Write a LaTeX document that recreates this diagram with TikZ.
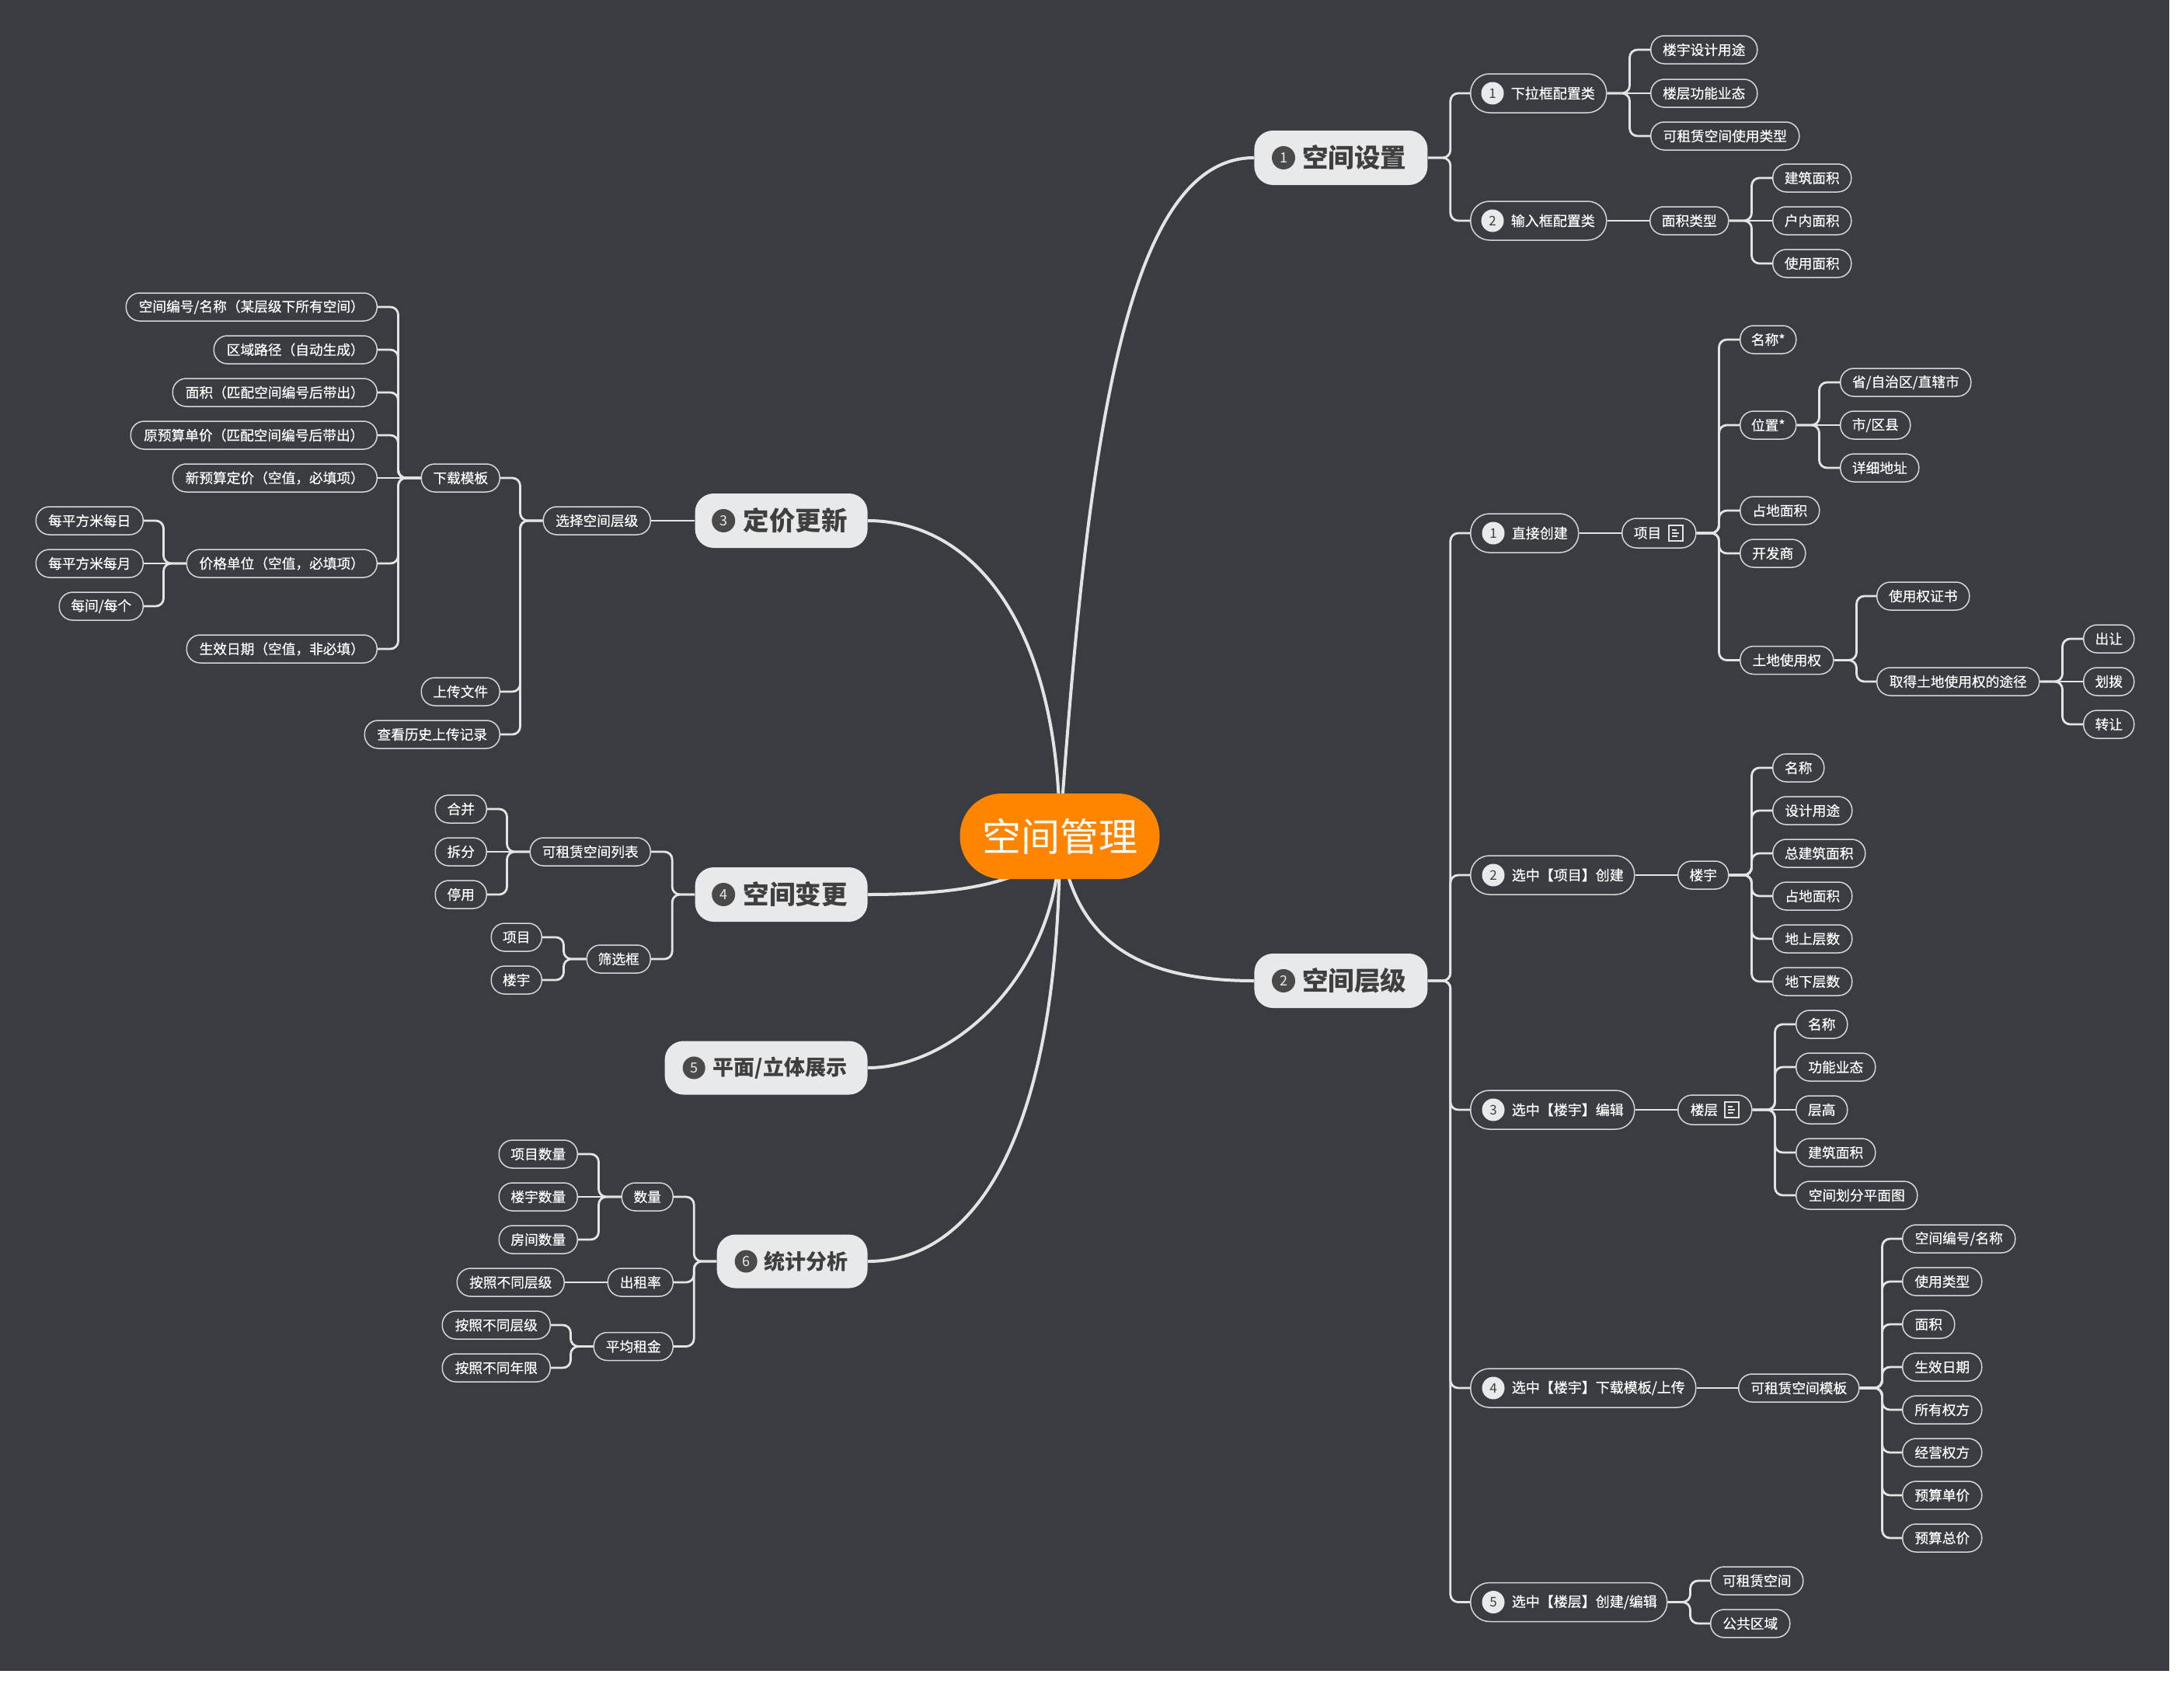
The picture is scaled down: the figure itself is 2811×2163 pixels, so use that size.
\documentclass[tikz,border=0pt]{standalone}
\usepackage{fontspec}
\setmainfont{Noto Sans CJK SC}
\newfontfamily\leaffont{Noto Sans CJK SC}[FakeBold=0.4]
\usetikzlibrary{calc}
\newdimen\pxu \pxu=0.5pt
\newcommand{\cbx}[2]{\hbox to #1\pxu{\hfil#2\hfil}}
\newcommand{\lbx}[3]{\hbox to #1\pxu{\hspace*{#2\pxu}#3\hfil}}
\newcommand{\rtree}[2]{\draw[conn] (#1.east) -- ++(29,0) |- (#2.west);}
\newcommand{\ltree}[2]{\draw[conn] (#1.west) -- ++(-29,0) |- (#2.east);}
\newcommand{\rdir}[2]{\draw[conn] (#1.east) -- (#2.west);}
\newcommand{\ldir}[2]{\draw[conn] (#1.west) -- (#2.east);}
\definecolor{bgc}{HTML}{393C41}
\definecolor{lnc}{HTML}{E4E4E4}
\definecolor{outc}{HTML}{D6D6D6}
\definecolor{mainfill}{HTML}{E8E9EB}
\definecolor{maintext}{HTML}{3F3F3F}
\definecolor{numdark}{HTML}{4A4A4A}
\definecolor{orangec}{HTML}{FF8500}
\pgfdeclarelayer{bgl}
\pgfdeclarelayer{edges}
\pgfsetlayers{bgl,edges,main}
\tikzset{
  leaf/.style={draw=outc, line width=0.75pt, fill=bgc, rounded corners=8.7pt, minimum height=18pt, inner sep=0pt, text=white, font=\leaffont\fontsize{8.85}{10}\selectfont},
  icnode/.style={leaf, minimum height=19pt, rounded corners=9.2pt},
  sub/.style={draw=outc, line width=0.75pt, fill=bgc, rounded corners=12.2pt, minimum height=25pt, inner sep=0pt, text=white, font=\leaffont\fontsize{9}{10}\selectfont},
  mainn/.style={fill=mainfill, rounded corners=12pt, minimum height=35pt, inner sep=0pt, text=maintext, font=\fontsize{16.75}{18}\selectfont\bfseries},
  mains/.style={mainn, minimum height=34.5pt, font=\fontsize{13.5}{15}\selectfont\bfseries},
  rootn/.style={fill=orangec, rounded corners=27pt, minimum height=55pt, inner sep=0pt, text=white, font=\fontsize{25}{28}\selectfont},
  numd/.style={circle, fill=numdark, text=mainfill, minimum size=15pt, inner sep=0pt, font=\fontsize{9}{10}\selectfont},
  numl/.style={circle, fill=mainfill, text=maintext, minimum size=14.5pt, inner sep=0pt, font=\fontsize{8.5}{9}\selectfont},
  conn/.style={draw=lnc, line width=1.4pt, rounded corners=5pt},
  mconn/.style={draw=lnc, line width=2pt},
  icon/.style={draw=lnc, line width=0.6pt}
}
\begin{document}
\begin{tikzpicture}[x=0.5pt,y=-0.5pt]
\useasboundingbox (0,0) rectangle (2811,2163);
\begin{pgfonlayer}{bgl}
\fill[white] (0,0) rectangle (2811,2163);
\fill[bgc] (0,0) rectangle (2792,2150);
\end{pgfonlayer}

% root
\node[rootn] (root) at (1364,1076) {\cbx{257}{空间管理}};

% ===== main 1
\node[mainn, anchor=west] (m1) at (1614,203) {\lbx{223}{62}{空间设置}};
\node[numd, xshift=19pt] (m1n) at (m1.west) {1};
\node[sub, anchor=west] (s11) at (1892,120) {\lbx{175}{52}{下拉框配置类}};
\node[numl, xshift=14.5pt] (s11n) at (s11.west) {1};
\node[leaf, anchor=west] (l111) at (2124,64) {\cbx{137}{楼宇设计用途}};
\node[leaf, anchor=west] (l112) at (2124,120) {\cbx{137}{楼层功能业态}};
\node[leaf, anchor=west] (l113) at (2124,175) {\cbx{191}{可租赁空间使用类型}};
\node[sub, anchor=west] (s12) at (1892,284) {\lbx{175}{52}{输入框配置类}};
\node[numl, xshift=14.5pt] (s12n) at (s12.west) {2};
\node[leaf, anchor=west] (l121) at (2123,284) {\cbx{101}{面积类型}};
\node[leaf, anchor=west] (l1211) at (2281,229) {\cbx{101}{建筑面积}};
\node[leaf, anchor=west] (l1212) at (2281,284) {\cbx{101}{户内面积}};
\node[leaf, anchor=west] (l1213) at (2281,339) {\cbx{101}{使用面积}};

% ===== main 2
\node[mainn, anchor=west] (m2) at (1614,1262) {\lbx{223}{62}{空间层级}};
\node[numd, xshift=19pt] (m2n) at (m2.west) {2};
% s21
\node[sub, anchor=west] (s21) at (1892,686) {\lbx{139}{53}{直接创建}};
\node[numl, xshift=15pt] (s21n) at (s21.west) {1};
\node[icnode, anchor=west] (p21) at (2087,686) {\lbx{95}{15}{项目}};
\node[leaf, anchor=west] (a1) at (2239,437) {\cbx{72}{名称*}};
\node[leaf, anchor=west] (a2) at (2239,547) {\cbx{72}{位置*}};
\node[leaf, anchor=west] (a21) at (2368,492) {\cbx{168}{省/自治区/直辖市}};
\node[leaf, anchor=west] (a22) at (2368,547) {\cbx{90}{市/区县}};
\node[leaf, anchor=west] (a23) at (2368,602) {\cbx{101}{详细地址}};
\node[leaf, anchor=west] (a3) at (2239,657) {\cbx{102}{占地面积}};
\node[leaf, anchor=west] (a4) at (2239,712) {\cbx{84}{开发商}};
\node[leaf, anchor=west] (a5) at (2239,849.5) {\cbx{120}{土地使用权}};
\node[leaf, anchor=west] (a51) at (2415,767) {\cbx{119}{使用权证书}};
\node[leaf, anchor=west] (a52) at (2415,877) {\cbx{209}{取得土地使用权的途径}};
\node[leaf, anchor=west] (a521) at (2681,822) {\cbx{65}{出让}};
\node[leaf, anchor=west] (a522) at (2681,877) {\cbx{65}{划拨}};
\node[leaf, anchor=west] (a523) at (2681,932) {\cbx{65}{转让}};
% s22
\node[sub, anchor=west] (s22) at (1892,1126) {\lbx{211}{53}{选中【项目】创建}};
\node[numl, xshift=15pt] (s22n) at (s22.west) {2};
\node[leaf, anchor=west] (b0) at (2159,1126) {\cbx{65}{楼宇}};
\node[leaf, anchor=west] (b1) at (2281,988) {\cbx{66}{名称}};
\node[leaf, anchor=west] (b2) at (2281,1043) {\cbx{102}{设计用途}};
\node[leaf, anchor=west] (b3) at (2281,1098) {\cbx{119}{总建筑面积}};
\node[leaf, anchor=west] (b4) at (2281,1153) {\cbx{102}{占地面积}};
\node[leaf, anchor=west] (b5) at (2281,1208) {\cbx{102}{地上层数}};
\node[leaf, anchor=west] (b6) at (2281,1263) {\cbx{102}{地下层数}};
% s23
\node[sub, anchor=west] (s23) at (1892,1428) {\lbx{211}{53}{选中【楼宇】编辑}};
\node[numl, xshift=15pt] (s23n) at (s23.west) {3};
\node[icnode, anchor=west] (c0) at (2159,1428) {\lbx{95}{16}{楼层}};
\node[leaf, anchor=west] (c1) at (2311,1318) {\cbx{66}{名称}};
\node[leaf, anchor=west] (c2) at (2311,1373) {\cbx{102}{功能业态}};
\node[leaf, anchor=west] (c3) at (2311,1428) {\cbx{66}{层高}};
\node[leaf, anchor=west] (c4) at (2311,1483) {\cbx{102}{建筑面积}};
\node[leaf, anchor=west] (c5) at (2311,1538) {\cbx{156}{空间划分平面图}};
% s24
\node[sub, anchor=west] (s24) at (1892,1786) {\lbx{290}{53}{选中【楼宇】下载模板/上传}};
\node[numl, xshift=15pt] (s24n) at (s24.west) {4};
\node[leaf, anchor=west] (d0) at (2237,1786) {\cbx{155}{可租赁空间模板}};
\node[leaf, anchor=west] (d1) at (2448,1594) {\cbx{145}{空间编号/名称}};
\node[leaf, anchor=west] (d2) at (2448,1649) {\cbx{102}{使用类型}};
\node[leaf, anchor=west] (d3) at (2448,1704) {\cbx{67}{面积}};
\node[leaf, anchor=west] (d4) at (2448,1759) {\cbx{102}{生效日期}};
\node[leaf, anchor=west] (d5) at (2448,1814) {\cbx{102}{所有权方}};
\node[leaf, anchor=west] (d6) at (2448,1869) {\cbx{102}{经营权方}};
\node[leaf, anchor=west] (d7) at (2448,1924) {\cbx{102}{预算单价}};
\node[leaf, anchor=west] (d8) at (2448,1979) {\cbx{102}{预算总价}};
% s25
\node[sub, anchor=west] (s25) at (1892,2061.5) {\lbx{253}{53}{选中【楼层】创建/编辑}};
\node[numl, xshift=15pt] (s25n) at (s25.west) {5};
\node[leaf, anchor=west] (e1) at (2201,2034) {\cbx{119}{可租赁空间}};
\node[leaf, anchor=west] (e2) at (2201,2089) {\cbx{102}{公共区域}};

% ===== main 3
\node[mainn, anchor=east] (m3) at (1117,670) {\lbx{222}{62}{定价更新}};
\node[numd, xshift=18.5pt] (m3n) at (m3.west) {3};
\node[leaf, anchor=east] (f0) at (838,670) {\cbx{138}{选择空间层级}};
\node[leaf, anchor=east] (f1) at (644,615) {\cbx{101}{下载模板}};
\node[leaf, anchor=east] (f11) at (486,395) {\cbx{323}{空间编号/名称（某层级下所有空间）}};
\node[leaf, anchor=east] (f12) at (486,450) {\cbx{210}{区域路径（自动生成）}};
\node[leaf, anchor=east] (f13) at (486,505) {\cbx{263}{面积（匹配空间编号后带出）}};
\node[leaf, anchor=east] (f14) at (486,560) {\cbx{317}{原预算单价（匹配空间编号后带出）}};
\node[leaf, anchor=east] (f15) at (486,615) {\cbx{263}{新预算定价（空值，必填项）}};
\node[leaf, anchor=east] (f16) at (486,725) {\cbx{245}{价格单位（空值，必填项）}};
\node[leaf, anchor=east] (f161) at (185,670) {\cbx{138}{每平方米每日}};
\node[leaf, anchor=east] (f162) at (185,725) {\cbx{138}{每平方米每月}};
\node[leaf, anchor=east] (f163) at (185,780) {\cbx{108}{每间/每个}};
\node[leaf, anchor=east] (f17) at (486,835) {\cbx{245}{生效日期（空值，非必填）}};
\node[leaf, anchor=east] (f2) at (644,890) {\cbx{101}{上传文件}};
\node[leaf, anchor=east] (f3) at (644,945) {\cbx{174}{查看历史上传记录}};

% ===== main 4
\node[mainn, anchor=east] (m4) at (1117,1151) {\lbx{222}{62}{空间变更}};
\node[numd, xshift=18.5pt] (m4n) at (m4.west) {4};
\node[leaf, anchor=east] (g1) at (838,1096) {\cbx{155}{可租赁空间列表}};
\node[leaf, anchor=east] (g11) at (627,1041) {\cbx{66}{合并}};
\node[leaf, anchor=east] (g12) at (627,1096) {\cbx{66}{拆分}};
\node[leaf, anchor=east] (g13) at (627,1151) {\cbx{66}{停用}};
\node[leaf, anchor=east] (g2) at (838,1234) {\cbx{82}{筛选框}};
\node[leaf, anchor=east] (g21) at (698,1206) {\cbx{65}{项目}};
\node[leaf, anchor=east] (g22) at (698,1261) {\cbx{65}{楼宇}};

% ===== main 5
\node[mains, anchor=east] (m5) at (1117,1374) {\lbx{261}{62}{平面/立体展示}};
\node[numd, minimum size=14.5pt, xshift=19pt] (m5n) at (m5.west) {5};

% ===== main 6
\node[mains, anchor=east] (m6) at (1117,1623) {\lbx{194}{61}{统计分析}};
\node[numd, minimum size=14.5pt, xshift=19pt] (m6n) at (m6.west) {6};
\node[leaf, anchor=east] (h1) at (867,1540) {\cbx{66}{数量}};
\node[leaf, anchor=east] (h11) at (744,1485) {\cbx{101}{项目数量}};
\node[leaf, anchor=east] (h12) at (744,1540) {\cbx{101}{楼宇数量}};
\node[leaf, anchor=east] (h13) at (744,1595) {\cbx{101}{房间数量}};
\node[leaf, anchor=east] (h2) at (867,1650) {\cbx{84}{出租率}};
\node[leaf, anchor=east] (h21) at (727,1650) {\cbx{138}{按照不同层级}};
\node[leaf, anchor=east] (h3) at (867,1732.5) {\cbx{102}{平均租金}};
\node[leaf, anchor=east] (h31) at (709,1705) {\cbx{139}{按照不同层级}};
\node[leaf, anchor=east] (h32) at (709,1760) {\cbx{139}{按照不同年限}};

% note icons
\draw[icon] ($(p21.west)+(61,-10)$) rectangle ++(18,20);
\draw[icon] ($(p21.west)+(65,-4)$) -- ++(6,0);
\draw[icon] ($(p21.west)+(65,0)$) -- ++(9,0);
\draw[icon] ($(p21.west)+(65,4)$) -- ++(7,0);
\draw[icon] ($(c0.west)+(61,-10)$) rectangle ++(18,20);
\draw[icon] ($(c0.west)+(65,-4)$) -- ++(6,0);
\draw[icon] ($(c0.west)+(65,0)$) -- ++(9,0);
\draw[icon] ($(c0.west)+(65,4)$) -- ++(7,0);

\begin{pgfonlayer}{edges}
% main curves
\draw[mconn] (root.center) .. controls +(36,-516) and +(-164,0) .. (m1.west);
\draw[mconn] (root.center) .. controls +(16,124) and +(-164,0) .. (m2.west);
\draw[mconn] (root.center) .. controls +(0,-276) and +(133,0) .. (m3.east);
\draw[mconn] (root.center) .. controls +(-24,64) and +(103,0) .. (m4.east);
\draw[mconn] (root.center) .. controls +(0,174) and +(113,0) .. (m5.east);
\draw[mconn] (root.center) .. controls +(0,374) and +(144,0) .. (m6.east);
% main1
\rtree{m1}{s11} \rtree{m1}{s12}
\rtree{s11}{l111} \rdir{s11}{l112} \rtree{s11}{l113}
\rdir{s12}{l121}
\rtree{l121}{l1211} \rdir{l121}{l1212} \rtree{l121}{l1213}
% main2
\rtree{m2}{s21} \rtree{m2}{s22} \rtree{m2}{s23} \rtree{m2}{s24} \rtree{m2}{s25}
\rdir{s21}{p21}
\rtree{p21}{a1} \rtree{p21}{a2} \rtree{p21}{a3} \rtree{p21}{a4} \rtree{p21}{a5}
\rtree{a2}{a21} \rdir{a2}{a22} \rtree{a2}{a23}
\rtree{a5}{a51} \rtree{a5}{a52}
\rtree{a52}{a521} \rdir{a52}{a522} \rtree{a52}{a523}
\rdir{s22}{b0}
\rtree{b0}{b1} \rtree{b0}{b2} \rtree{b0}{b3} \rtree{b0}{b4} \rtree{b0}{b5} \rtree{b0}{b6}
\rdir{s23}{c0}
\rtree{c0}{c1} \rtree{c0}{c2} \rdir{c0}{c3} \rtree{c0}{c4} \rtree{c0}{c5}
\rdir{s24}{d0}
\rtree{d0}{d1} \rtree{d0}{d2} \rtree{d0}{d3} \rtree{d0}{d4} \rtree{d0}{d5} \rtree{d0}{d6} \rtree{d0}{d7} \rtree{d0}{d8}
\rtree{s25}{e1} \rtree{s25}{e2}
% main3
\ldir{m3}{f0}
\ltree{f0}{f1} \ltree{f0}{f2} \ltree{f0}{f3}
\ltree{f1}{f11} \ltree{f1}{f12} \ltree{f1}{f13} \ltree{f1}{f14} \ldir{f1}{f15} \ltree{f1}{f16} \ltree{f1}{f17}
\ltree{f16}{f161} \ldir{f16}{f162} \ltree{f16}{f163}
% main4
\ltree{m4}{g1} \ltree{m4}{g2}
\ltree{g1}{g11} \ldir{g1}{g12} \ltree{g1}{g13}
\ltree{g2}{g21} \ltree{g2}{g22}
% main6
\ltree{m6}{h1} \ltree{m6}{h2} \ltree{m6}{h3}
\ltree{h1}{h11} \ldir{h1}{h12} \ltree{h1}{h13}
\ldir{h2}{h21}
\ltree{h3}{h31} \ltree{h3}{h32}
\end{pgfonlayer}
\end{tikzpicture}
\end{document}
